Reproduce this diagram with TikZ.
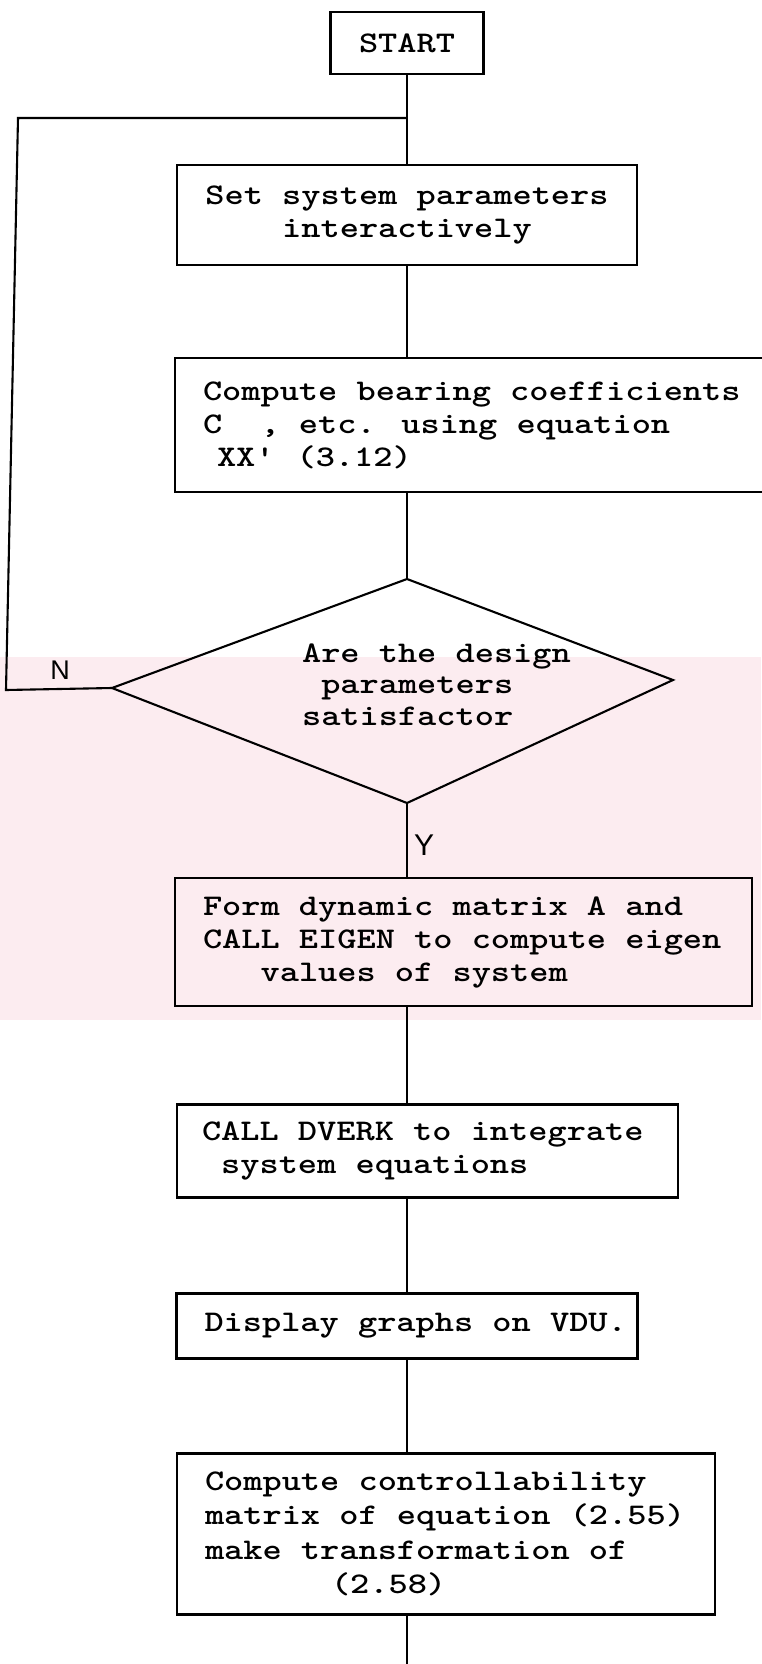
\documentclass[tikz,border=0pt]{standalone}
\usepackage{fontspec}
\newfontfamily\tw[FakeStretch=1.219]{lmmonolt10-bold.otf}
\newfontfamily\lbl{Liberation Sans}
\definecolor{wm}{RGB}{252,236,240}
\begin{document}
\begin{tikzpicture}[x=1pt,y=-1pt,line width=2.1pt,
  box/.style={draw,rectangle,inner ysep=0pt,font={\tw\fontsize{30}{33}\selectfont}},
  dtxt/.style={font={\tw\fontsize{30}{31.5}\selectfont},align=left,inner sep=0pt,anchor=west},
  yn/.style={font={\lbl\fontsize{27}{27}\selectfont},inner sep=0pt}]
\useasboundingbox (0,0) rectangle (761,1664);
% watermark band
\fill[wm] (0,657) rectangle (761,1020);

\node[box,minimum width=153pt,minimum height=62pt] (start) at (407,43) {START};
\node[box,minimum width=460pt,minimum height=100pt,align=center] (set) at (407,215)
  {Set system parameters\\interactively};
\node[box,minimum width=605pt,minimum height=134pt,text width=549pt,inner xsep=28pt,align=flush left] (bearing) at (477.5,425)
  {\mbox{Compute bearing coefficients}\\
   \mbox{C~~,~etc. using equation}\\
   \mbox{\hspace*{14pt}XX'\hspace*{22pt}(3.12)}};

\coordinate (dtop) at (407,579);
\coordinate (dright) at (673,680);
\coordinate (dbot) at (407,803);
\coordinate (dleft) at (112,688);
\draw (dtop) -- (dright) -- (dbot) -- (dleft) -- cycle;
\node[dtxt] (dtext) at (301,684.5) {Are the design\\\hspace*{19.2pt}parameters\\satisfactor};

\node[box,minimum width=577pt,minimum height=128pt,text width=521pt,inner xsep=28pt,align=flush left] (form) at (463.5,942)
  {\mbox{Form dynamic matrix A and}\\
   \mbox{CALL EIGEN to compute eigen}\\
   \mbox{\hspace*{57.6pt}values of system}};
\node[box,minimum width=501pt,minimum height=93pt,text width=451pt,inner xsep=25pt,align=flush left] (dverk) at (427.5,1151)
  {\mbox{CALL DVERK to integrate}\\
   \mbox{\hspace*{19.2pt}system equations}};
\node[box,minimum width=461pt,minimum height=65pt,text width=405pt,inner xsep=28pt,align=flush left] (disp) at (407,1326)
  {\mbox{Display graphs on VDU.}};
\node[box,minimum width=538pt,minimum height=161pt,text width=482pt,inner xsep=28pt,align=flush left,
      font={\tw\fontsize{30}{34.5}\selectfont}] (ctrl) at (446,1534)
  {\mbox{Compute controllability}\\
   \mbox{matrix of equation (2.55)}\\
   \mbox{make transformation of}\\
   \mbox{\hspace*{126pt}(2.58)}};

% connectors
\coordinate (join) at (407,118);
\coordinate (ntop) at (18,118);
\coordinate (nbot) at (6,690);
\coordinate (bend) at (407,1664);
\draw (start.south) -- (set.north);
\draw (dleft) -- (nbot) -- (ntop) -- (join);
\draw (set.south) -- (set.south |- bearing.north);
\draw (set.south |- bearing.south) -- (dtop);
\draw (dbot) -- (dbot |- form.north);
\draw (dbot |- form.south) -- (dbot |- dverk.north);
\draw (dbot |- dverk.south) -- (dbot |- disp.north);
\draw (disp.south) -- (disp.south |- ctrl.north);
\draw (disp.south |- ctrl.south) -- (bend);

\node[yn] (nlab) at (60,670) {N};
\node[yn,font={\lbl\fontsize{30}{30}\selectfont}] (ylab) at (424,845) {Y};
\end{tikzpicture}
\end{document}
